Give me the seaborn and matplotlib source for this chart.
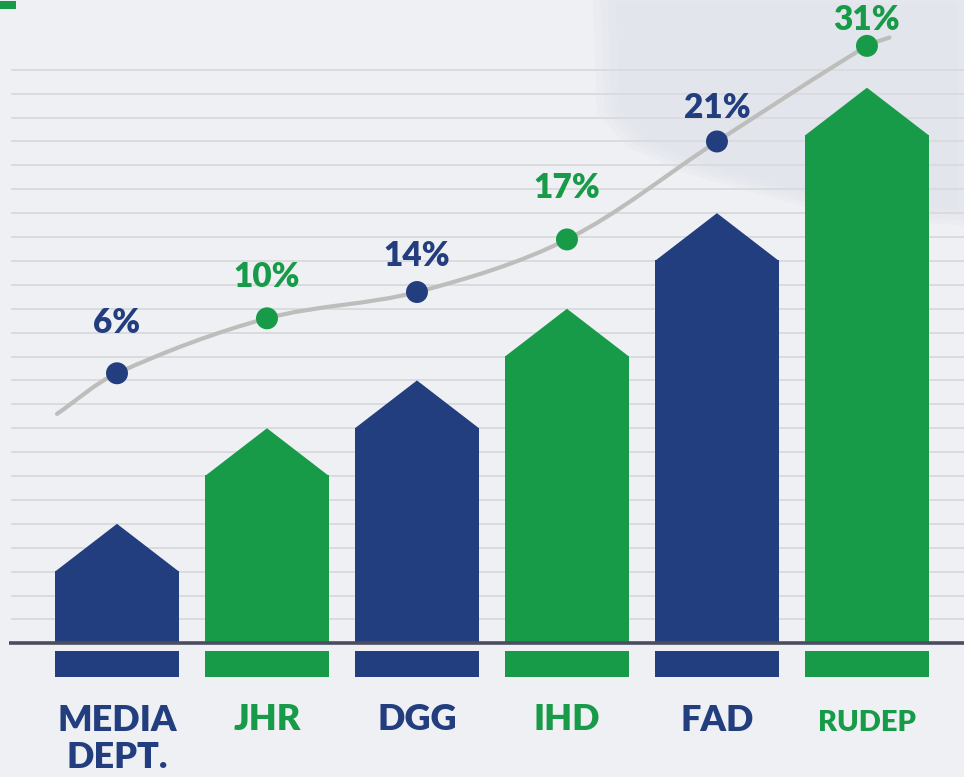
import numpy as np
import matplotlib.pyplot as plt
import seaborn as sns
from matplotlib.path import Path
from matplotlib.patches import PathPatch, Polygon, Rectangle

# --- data ---
departments = ["MEDIA\nDEPT.", "JHR", "DGG", "IHD", "FAD", "RUDEP"]
shares = [6, 10, 14, 17, 21, 31]                     # % labels on the curve
bar_tips = [5.0, 9.0, 11.0, 14.0, 18.0, 23.25]       # arrow tip height (grid units)
trend_levels = [11.3, 13.6, 14.7, 16.9, 21.0, 25.0]  # dot heights on the curve
trend_start = (-0.4, 9.6)
trend_end = (5.15, 25.35)

# --- layout / style ---
NAVY = "#233E7E"
GREEN = "#189B48"
colors = [NAVY, GREEN] * 3
HEAD = 1.97               # arrow head height
label_lift = [2.1, 1.73, 1.5, 2.15, 1.4, 1.1]
name_y = [-4.0, -3.17, -3.17, -3.17, -3.24, -3.34]
name_size = [26, 26, 26, 26, 26, 21]
BG = "#EEF0F4"
XPX, YPX = 150.0, 23.9    # pixels per data unit, used to shape the curve

sns.set_style("white")
plt.rcParams["font.family"] = ["Lato", "DejaVu Sans"]

fig = plt.figure(figsize=(9.64, 7.77), dpi=100)
fig.patch.set_facecolor(BG)

ax = fig.add_axes([0, 0, 1, 1])
ax.set_facecolor("none")

# faint, soft diagonal backdrop in the top right corner (layered for a blurred edge)
shape_px = np.array([(608, 0), (964, 0), (964, 215), (900, 212), (800, 196),
                     (700, 168), (640, 142), (612, 110)], dtype=float)
centre = np.array([800, 80])
for grow in [1.08, 1.04, 1.0, 0.96]:
    p = centre + (shape_px - centre) * grow
    ax.add_patch(Polygon([(x / 964, 1 - y / 777) for x, y in p], closed=True,
                         transform=fig.transFigure, facecolor="#DADEE6",
                         edgecolor="none", alpha=0.18, zorder=0))
# little green tag top-left
ax.add_patch(Rectangle((0, 1 - 9 / 777), 16 / 964, 8 / 777,
                       transform=fig.transFigure, facecolor=GREEN,
                       edgecolor="none", zorder=0, clip_on=False))

body = [t - HEAD for t in bar_tips]
sns.barplot(x=list(range(len(departments))), y=body, hue=list(range(len(departments))),
            palette=colors, saturation=1, width=0.823, legend=False,
            linewidth=0, ax=ax, zorder=3)

# pointed heads + footer strips built from the bar patches
for patch, col in zip(ax.patches[-len(departments):], colors):
    x0, w, h = patch.get_x(), patch.get_width(), patch.get_height()
    ax.add_patch(Polygon([(x0, h - 0.02), (x0 + w / 2, h + HEAD), (x0 + w, h - 0.02)],
                         closed=True, facecolor=col, edgecolor="none", zorder=3))
    ax.add_patch(Rectangle((x0, -1.4), w, 1.08, facecolor=col,
                           edgecolor="none", zorder=3))

# horizontal guide lines and the base line
ax.hlines(np.arange(1, 25), -0.707, 6, color="#DADBDF", lw=1.4, zorder=1)
ax.hlines(0, -0.72, 6, color="#4B4D5E", lw=2.6, zorder=4)

# smooth trend curve: cubic Bezier path with length-scaled tangents
xs = [trend_start[0]] + list(range(len(shares))) + [trend_end[0]]
ys = [trend_start[1]] + trend_levels + [trend_end[1]]
pts = np.column_stack([xs, ys]).astype(float) * [XPX, YPX]
n = len(pts)
tang = np.zeros_like(pts)
for i in range(n):
    a, b = pts[max(i - 1, 0)], pts[min(i + 1, n - 1)]
    d = b - a
    tang[i] = d / np.hypot(*d)
verts, codes = [tuple(pts[0])], [Path.MOVETO]
for i in range(n - 1):
    L = np.hypot(*(pts[i + 1] - pts[i])) / 3
    verts += [tuple(pts[i] + tang[i] * L), tuple(pts[i + 1] - tang[i + 1] * L),
              tuple(pts[i + 1])]
    codes += [Path.CURVE4] * 3
verts = [(vx / XPX, vy / YPX) for vx, vy in verts]
ax.add_patch(PathPatch(Path(verts, codes), facecolor="none", edgecolor="#BDBDBB",
                       lw=3, capstyle="round", zorder=5))

sns.scatterplot(x=list(range(len(shares))), y=trend_levels, hue=list(range(len(shares))),
                palette=colors, s=250, linewidth=0, legend=False, ax=ax, zorder=6)

for i, (val, lvl) in enumerate(zip(shares, trend_levels)):
    ax.text(i, lvl + label_lift[i], f"{val}%", ha="center", va="center",
            fontsize=24, fontweight="heavy", color=colors[i], zorder=7)

for i, name in enumerate(departments):
    ax.text(i, name_y[i], name, ha="center", va="center", fontsize=name_size[i],
            fontweight="heavy", color=colors[i], linespacing=1.12, zorder=7)

ax.set_xlim(-0.78, 5.647)
ax.set_ylim(-5.594, 26.92)
ax.axis("off")

fig.savefig("out.png", dpi=100, facecolor=BG)
